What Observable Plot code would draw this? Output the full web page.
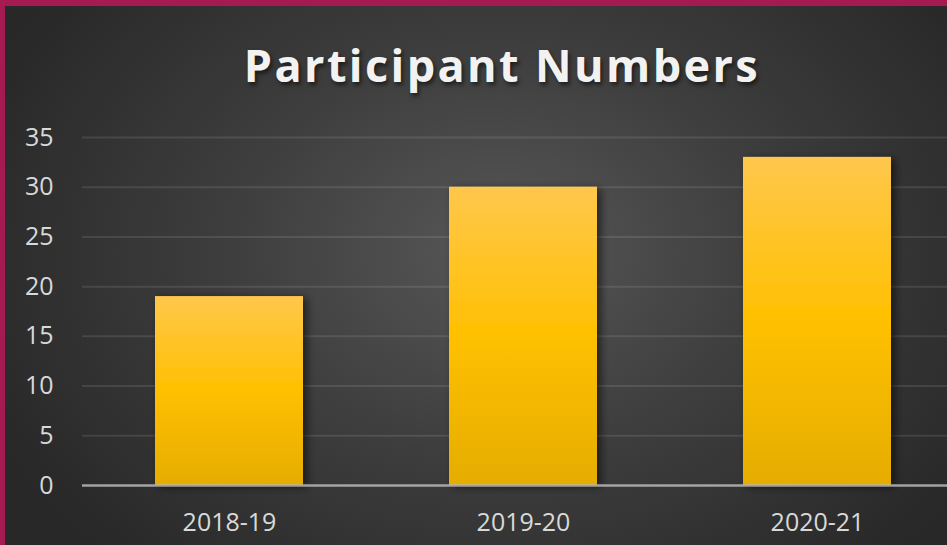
<!DOCTYPE html>
<html>
<head>
<meta charset="utf-8">
<script src="https://cdn.jsdelivr.net/npm/d3@7"></script>
<script src="https://cdn.jsdelivr.net/npm/@observablehq/plot@0.6"></script>
<style>
  html, body { margin: 0; padding: 0; overflow: hidden; }
  #page {
    position: relative; width: 947px; height: 545px; overflow: hidden;
    background: radial-gradient(ellipse 560px 420px at 500px 250px, #575757 0%, #3d3d3d 50%, #282828 100%);
    font-family: "Open Sans", sans-serif;
  }
  #title {
    position: absolute; left: 502px; top: 42px; transform: translateX(-50%);
    white-space: nowrap; font-size: 45px; line-height: 45px; font-weight: 700;
    letter-spacing: 2.4px; color: #f2f2f2;
    text-shadow: 2px 3px 4px rgba(0,0,0,0.55);
  }
  #chart { position: absolute; left: 0; top: 100px; }
  .bl { position: absolute; left: 0; top: 0; width: 5px; height: 545px; background: #a61a52; }
  .bt { position: absolute; left: 0; top: 0; width: 947px; height: 6px; background: #a61a52; }
</style>
</head>
<body>
<div id="page">
  <div id="title">Participant Numbers</div>
  <div id="chart"></div>
  <div class="bl"></div>
  <div class="bt"></div>
</div>
<script>
const categories = ["2018-19", "2019-20", "2020-21"];
const participants = [19, 30, 33];
const yTicks = [0, 5, 10, 15, 20, 25, 30, 35];

const data = categories.map((c, i) => ({season: c, value: participants[i]}));

const chart = Plot.plot({
  width: 947,
  height: 445,
  marginLeft: 82,
  marginRight: 0,
  marginTop: 37,
  marginBottom: 60,
  style: {background: "transparent", fontFamily: "Open Sans, sans-serif", fontSize: "25px", color: "#d9d9d9"},
  x: {domain: categories, range: [82, 964], paddingInner: 0.497, paddingOuter: 0.248, label: null},
  y: {domain: [0, 35], label: null},
  marks: [
    Plot.ruleY(yTicks.filter(d => d > 0), {stroke: "#ffffff", strokeOpacity: 0.1, strokeWidth: 2}),
    Plot.barY(data, {x: "season", y: "value", fill: "url(#barGrad)"}),
    Plot.ruleY([0], {stroke: "#b8b8b8", strokeOpacity: 0.85, strokeWidth: 2.5}),
    Plot.axisY({ticks: yTicks, tickSize: 0, tickPadding: 29, tickFormat: d => String(d), label: null, fill: "#d9d9d9"}),
    Plot.axisX({tickSize: 0, tickPadding: 28, label: null, fill: "#d9d9d9"})
  ]
});

const svg = d3.select(chart);
svg.insert("defs", ":first-child").html(`
  <linearGradient id="barGrad" x1="0" y1="0" x2="0" y2="1">
    <stop offset="0" stop-color="#ffc74c"/>
    <stop offset="0.5" stop-color="#ffc000"/>
    <stop offset="1" stop-color="#e5ad00"/>
  </linearGradient>
  <filter id="barShadow" x="-20%" y="-20%" width="150%" height="140%">
    <feDropShadow dx="4" dy="2" stdDeviation="4" flood-color="#000" flood-opacity="0.55"/>
  </filter>`);
svg.selectAll("g[aria-label='bar']").attr("filter", "url(#barShadow)");

document.getElementById("chart").appendChild(chart);
</script>
</body>
</html>
